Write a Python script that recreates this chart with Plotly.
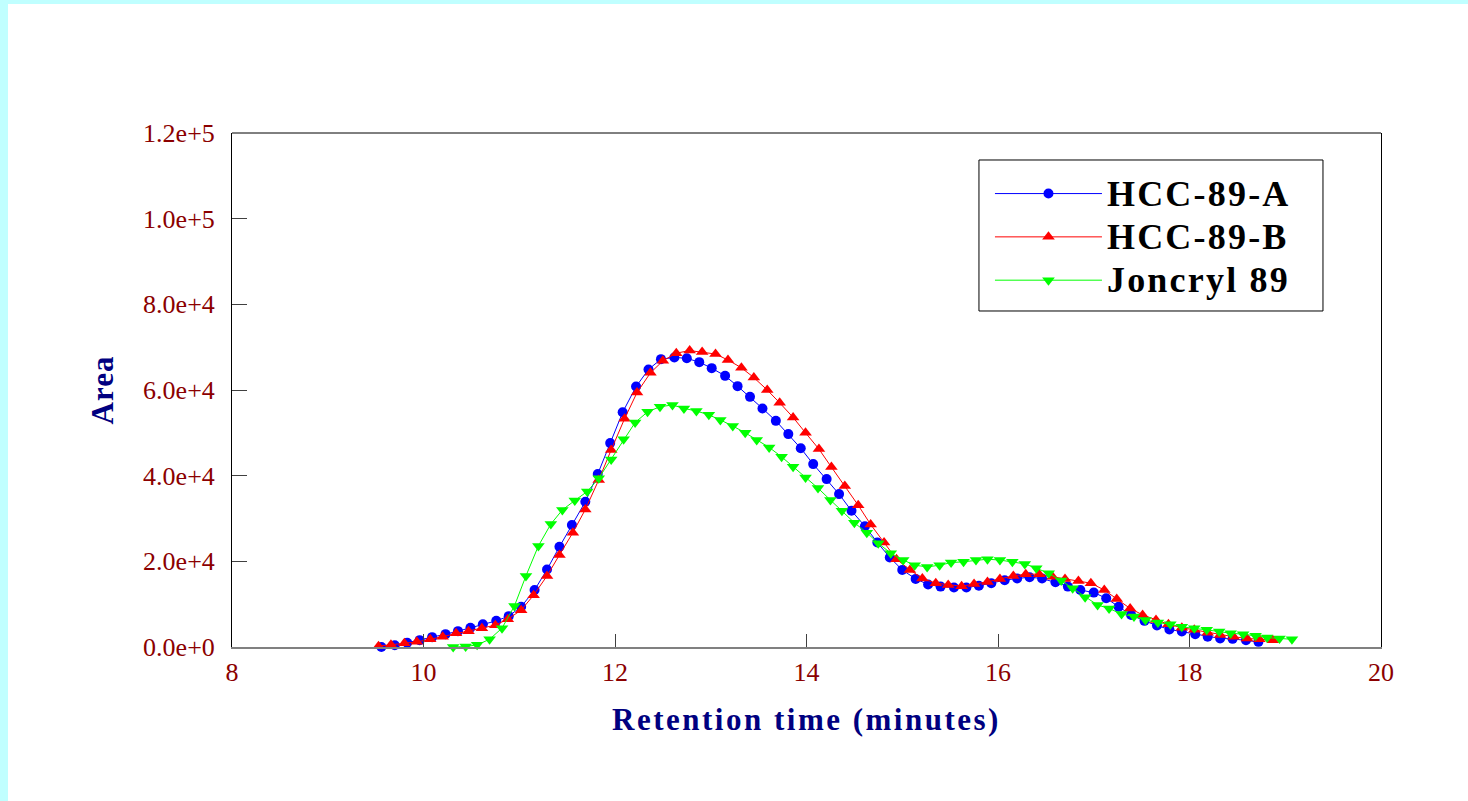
import plotly.graph_objects as go

# ---- data ----
x_tick_vals = [8, 10, 12, 14, 16, 18, 20]
y_tick_vals = [0, 20000, 40000, 60000, 80000, 100000, 120000]
y_tick_text = ["0.0e+0", "2.0e+4", "4.0e+4", "6.0e+4", "8.0e+4", "1.0e+5", "1.2e+5"]

series_names = ["HCC-89-A", "HCC-89-B", "Joncryl 89"]

hcc_a_time = [9.56, 9.70, 9.83, 9.96, 10.09, 10.23, 10.36, 10.49, 10.62, 10.76,
              10.89, 11.02, 11.16, 11.29, 11.42, 11.55, 11.69, 11.82, 11.95, 12.08,
              12.22, 12.35, 12.48, 12.62, 12.75, 12.88, 13.01, 13.15, 13.28, 13.41,
              13.54, 13.68, 13.81, 13.94, 14.07, 14.21, 14.34, 14.47, 14.61, 14.74,
              14.87, 15.00, 15.14, 15.27, 15.40, 15.54, 15.67, 15.80, 15.93, 16.07,
              16.20, 16.33, 16.46, 16.60, 16.73, 16.86, 17.00, 17.13, 17.26, 17.39,
              17.53, 17.66, 17.79, 17.92, 18.06, 18.19, 18.32, 18.45, 18.59, 18.72]
hcc_a_area = [0, 400, 1000, 1600, 2300, 3000, 3700, 4500, 5300, 6100,
              7200, 9400, 13300, 18100, 23400, 28500, 33900, 40400, 47600, 54800,
              60800, 64800, 67200, 67600, 67400, 66500, 65100, 63300, 60900, 58400,
              55700, 52800, 49700, 46400, 42700, 39200, 35700, 31800, 28200, 24400,
              20900, 18000, 15900, 14600, 14100, 13900, 13900, 14300, 14900, 15600,
              16000, 16300, 16000, 15100, 14100, 13300, 12700, 11400, 9400, 7500,
              6100, 5000, 4100, 3600, 3000, 2400, 2000, 1900, 1600, 1200]

hcc_b_time = [9.53, 9.66, 9.80, 9.93, 10.07, 10.20, 10.34, 10.47, 10.61, 10.75,
              10.88, 11.02, 11.15, 11.29, 11.42, 11.56, 11.69, 11.83, 11.96, 12.10,
              12.23, 12.37, 12.50, 12.64, 12.78, 12.91, 13.05, 13.18, 13.32, 13.45,
              13.59, 13.72, 13.86, 13.99, 14.13, 14.26, 14.40, 14.54, 14.67, 14.81,
              14.94, 15.08, 15.21, 15.35, 15.48, 15.62, 15.75, 15.89, 16.02, 16.16,
              16.29, 16.43, 16.57, 16.70, 16.84, 16.97, 17.11, 17.24, 17.38, 17.51,
              17.65, 17.78, 17.92, 18.05, 18.19, 18.32, 18.46, 18.60, 18.73, 18.87]
hcc_b_area = [200, 500, 900, 1200, 1800, 2400, 3200, 3700, 4400, 5100,
              6500, 8600, 12100, 16600, 21500, 26700, 32100, 39000, 46000, 53300,
              59400, 64000, 66800, 68600, 69200, 68900, 68400, 67000, 65200, 62900,
              60000, 57000, 53600, 50000, 46200, 42000, 37600, 33100, 28600, 24400,
              20500, 18000, 16000, 14900, 14500, 14200, 14700, 15200, 15900, 16600,
              17000, 17000, 16400, 15900, 15400, 14900, 13300, 11200, 9000, 7500,
              6300, 5300, 4500, 4000, 3300, 2800, 2400, 2000, 1800, 1600]

joncryl_time = [10.31, 10.44, 10.56, 10.69, 10.82, 10.95, 11.07, 11.20, 11.33, 11.45,
                11.58, 11.71, 11.83, 11.96, 12.09, 12.21, 12.34, 12.47, 12.60, 12.72,
                12.85, 12.98, 13.10, 13.23, 13.36, 13.48, 13.61, 13.74, 13.86, 13.99,
                14.12, 14.25, 14.37, 14.50, 14.63, 14.75, 14.88, 15.01, 15.13, 15.26,
                15.39, 15.51, 15.64, 15.77, 15.89, 16.02, 16.15, 16.28, 16.40, 16.53,
                16.66, 16.78, 16.91, 17.04, 17.16, 17.29, 17.42, 17.54, 17.67, 17.80,
                17.92, 18.05, 18.18, 18.31, 18.43, 18.56, 18.69, 18.81, 18.94, 19.07]
joncryl_area = [0, 100, 500, 1800, 4400, 9600, 16600, 23600, 28700, 32000,
                34200, 36300, 39400, 43800, 48500, 52400, 54900, 56100, 56500, 55700,
                55100, 54200, 53000, 51600, 50000, 48300, 46600, 44400, 42100, 39600,
                37100, 34300, 31800, 29000, 26700, 24200, 21900, 20300, 19100, 18700,
                19100, 19700, 19900, 20300, 20500, 20300, 19900, 19400, 18400, 17200,
                15500, 13700, 11600, 9800, 9000, 7700, 7100, 6300, 5700, 5300,
                4700, 4400, 4000, 3600, 3200, 3000, 2600, 2200, 2000, 1800]

# ---- figure ----
SERIF = "Liberation Serif, Times New Roman, serif"
TICK_COLOR = "#8B0000"
TITLE_COLOR = "#000080"


def spaced(text, px, size=None):
    style = "letter-spacing:%spx" % px
    if size:
        style += ";font-size:%spx" % size
    return '<span style="%s">%s</span>' % (style, text)


fig = go.Figure()
styles = [
    (hcc_a_time, hcc_a_area, "#0000FF", "circle", 10),
    (hcc_b_time, hcc_b_area, "#FF0000", "triangle-up", 11),
    (joncryl_time, joncryl_area, "#00FF00", "triangle-down", 11),
]
for name, (xs, ys, color, symbol, size) in zip(series_names, styles):
    fig.add_trace(go.Scatter(
        x=xs, y=ys, mode="lines+markers",
        name=spaced(name, 2.2, 36),
        line=dict(color=color, width=1),
        marker=dict(color=color, symbol=symbol, size=size),
        cliponaxis=False,
    ))

fig.update_layout(
    width=1460, height=797,
    margin=dict(l=224, r=87, t=129, b=154, pad=0),
    paper_bgcolor="white", plot_bgcolor="white",
    showlegend=True,
    legend=dict(
        x=0.6501, y=0.9340, xanchor="left", yanchor="top",
        bgcolor="rgba(0,0,0,0)", borderwidth=0,
        font=dict(family=SERIF, size=31, color="black", weight="bold"),
        itemwidth=107, indentation=11,
    ),
    xaxis=dict(
        range=[8, 20], tickvals=x_tick_vals,
        ticks="inside", ticklen=13, tickwidth=1, tickcolor="#404040",
        showline=True, linecolor="#808080", linewidth=2, mirror=False,
        showgrid=False, zeroline=False,
        tickfont=dict(family=SERIF, size=26, color=TICK_COLOR),
        ticklabelstandoff=1,
        title=dict(text=spaced("Retention time (minutes)", 2.5),
                   font=dict(family=SERIF, size=31, color=TITLE_COLOR, weight="bold"),
                   standoff=22),
    ),
    yaxis=dict(
        range=[0, 120000], tickvals=y_tick_vals, ticktext=y_tick_text,
        ticks="inside", ticklen=15, tickwidth=1, tickcolor="#404040",
        showline=True, linecolor="black", linewidth=1, mirror=True,
        showgrid=False, zeroline=False,
        tickfont=dict(family=SERIF, size=26, color=TICK_COLOR),
        ticklabelstandoff=11,
        title=dict(text=spaced("Area", 1),
                   font=dict(family=SERIF, size=31, color=TITLE_COLOR, weight="bold"),
                   standoff=20),
    ),
    shapes=[
        # top frame line
        dict(type="line", xref="paper", yref="paper", x0=0, x1=1, y0=1, y1=1,
             line=dict(color="black", width=1)),
        # legend box
        dict(type="rect", xref="paper", yref="paper",
             x0=0.6501, x1=0.9495, y0=0.6537, y1=0.9475,
             fillcolor="white", line=dict(color="black", width=1), layer="above"),
    ],
)

fig.write_html(
    "out.html",
    post_script="document.body.style.margin='4px 0 0 8px';"
                "document.body.style.background='#C0FFFF';",
)
